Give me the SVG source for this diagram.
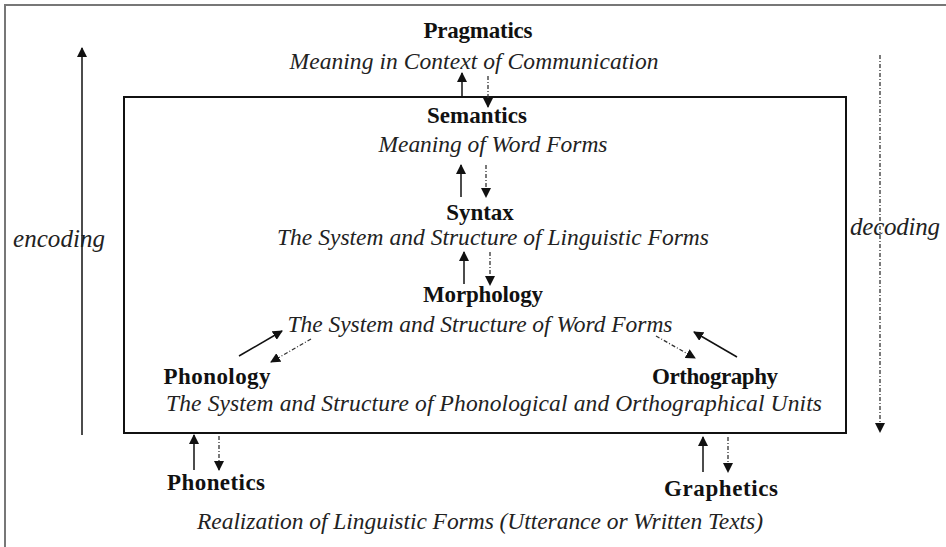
<svg xmlns="http://www.w3.org/2000/svg" width="946" height="547" viewBox="0 0 946 547">
<style>
.b{font-family:"Liberation Serif",serif;font-weight:bold;font-size:23px;fill:#111;text-anchor:middle}
.i{font-family:"Liberation Serif",serif;font-style:italic;font-size:23.5px;fill:#222;text-anchor:middle}
.e{font-size:25px}
.s{stroke:#111;stroke-width:1.5;fill:none}
.d{stroke:#333;stroke-width:1.3;fill:none;stroke-dasharray:4 2 1 2}
</style>
<defs>
<marker id="ah" viewBox="0 0 10 10" refX="9" refY="5" markerWidth="10" markerHeight="10" markerUnits="userSpaceOnUse" orient="auto"><path d="M0,0 L10,5 L0,10 z" fill="#111"/></marker>
</defs>
<rect width="946" height="547" fill="#fff"/>
<g id="frame"><path d="M5,547 V5 H946" stroke="#777" stroke-width="2" fill="none"/></g>
<g id="box"><rect x="124" y="97" width="722" height="336" fill="none" stroke="#111" stroke-width="2"/></g>
<g id="connectors">
<line class="s" x1="82" y1="435" x2="82" y2="48" marker-end="url(#ah)"/>
<line class="d" x1="880" y1="55" x2="880" y2="432" marker-end="url(#ah)"/>
<line class="s" x1="462" y1="97" x2="462" y2="73" marker-end="url(#ah)"/>
<line class="d" x1="488" y1="76" x2="488" y2="107" marker-end="url(#ah)"/>
<line class="s" x1="461" y1="197" x2="461" y2="165" marker-end="url(#ah)"/>
<line class="d" x1="486" y1="165" x2="486" y2="197" marker-end="url(#ah)"/>
<line class="s" x1="464" y1="284" x2="464" y2="252" marker-end="url(#ah)"/>
<line class="d" x1="490" y1="252" x2="490" y2="285" marker-end="url(#ah)"/>
<line class="s" x1="239" y1="356" x2="282" y2="331" marker-end="url(#ah)"/>
<line class="d" x1="311" y1="339" x2="271" y2="362" marker-end="url(#ah)"/>
<line class="s" x1="737" y1="357" x2="694" y2="332" marker-end="url(#ah)"/>
<line class="d" x1="656" y1="336" x2="695" y2="358" marker-end="url(#ah)"/>
<line class="s" x1="194" y1="470" x2="194" y2="435" marker-end="url(#ah)"/>
<line class="d" x1="219" y1="436" x2="219" y2="470" marker-end="url(#ah)"/>
<line class="s" x1="703" y1="472" x2="703" y2="437" marker-end="url(#ah)"/>
<line class="d" x1="728" y1="437" x2="728" y2="472" marker-end="url(#ah)"/>
</g>
<g id="pragmatics"><text class="b" x="478" y="38" textLength="109">Pragmatics</text><text class="i" x="474" y="69" textLength="369">Meaning in Context of Communication</text></g>
<g id="semantics"><text class="b" x="477" y="123" textLength="100">Semantics</text><text class="i" x="493" y="152" textLength="229">Meaning of Word Forms</text></g>
<g id="syntax"><text class="b" x="480" y="220">Syntax</text><text class="i" x="493" y="245" textLength="432">The System and Structure of Linguistic Forms</text></g>
<g id="morphology"><text class="b" x="483" y="302" textLength="120">Morphology</text><text class="i" x="480" y="332" textLength="385">The System and Structure of Word Forms</text></g>
<g id="phonology"><text class="b" x="217" y="384" textLength="107">Phonology</text></g>
<g id="orthography"><text class="b" x="715" y="384" textLength="126">Orthography</text></g>
<g id="units"><text class="i" x="494" y="411" textLength="656">The System and Structure of Phonological and Orthographical Units</text></g>
<g id="phonetics"><text class="b" x="216" y="490" textLength="98">Phonetics</text></g>
<g id="graphetics"><text class="b" x="721" y="496" textLength="114">Graphetics</text></g>
<g id="realization"><text class="i" x="480" y="529" textLength="566">Realization of Linguistic Forms (Utterance or Written Texts)</text></g>
<g id="encoding"><text class="i e" x="59" y="247" textLength="92">encoding</text></g>
<g id="decoding"><text class="i e" x="895" y="235" textLength="90">decoding</text></g>
</svg>
